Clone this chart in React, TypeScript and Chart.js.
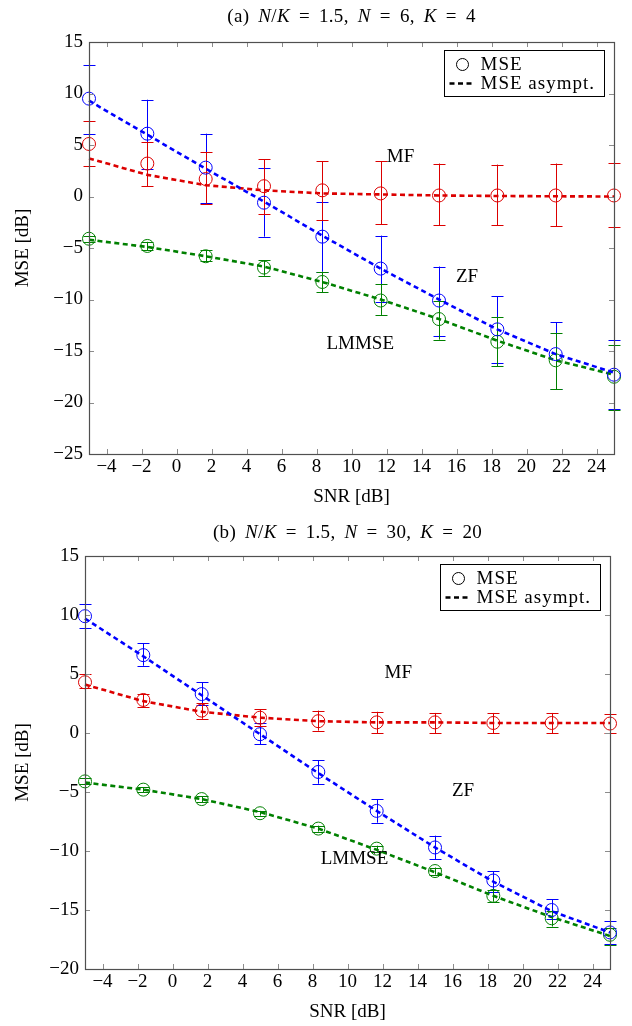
import React, { useEffect, useRef } from "react";
import { Chart, registerables } from "chart.js";

Chart.register(...registerables);

const FONT = "'Liberation Serif', 'Times New Roman', serif";
const FS = 19;

// ---------- data ----------
const snr = [-5, -1.667, 1.667, 5, 8.333, 11.667, 15, 18.333, 21.667, 25];
const xTicks = [-4, -2, 0, 2, 4, 6, 8, 10, 12, 14, 16, 18, 20, 22, 24];
const yTicksA = [-25, -20, -15, -10, -5, 0, 5, 10, 15];
const yTicksB = [-20, -15, -10, -5, 0, 5, 10, 15];
const legendLabels = ["MSE", "MSE asympt."];
const xLabel = "SNR [dB]";
const yLabel = "MSE [dB]";

// (a) N=6, K=4
const zfA = [9.5, 6.1, 2.8, -0.6, -3.9, -7.0, -10.1, -12.9, -15.3, -17.3];
const zfALo = [6.1, 2.7, -0.6, -3.9, -7.3, -10.2, -13.5, -16.2, -18.7, -20.6];
const zfAHi = [12.8, 9.4, 6.1, 2.8, -0.5, -3.8, -6.8, -9.7, -12.2, -13.9];
const zfAAsym = [9.3, 6.0, 2.7, -0.5, -3.8, -7.0, -10.0, -12.9, -15.3, -17.1];

const mfA = [5.1, 3.2, 1.7, 1.0, 0.6, 0.3, 0.1, 0.1, 0.1, 0.1];
const mfALo = [3.0, 1.0, -0.7, -1.7, -2.3, -2.7, -2.8, -2.8, -2.9, -3.0];
const mfAHi = [7.3, 5.3, 4.3, 3.6, 3.4, 3.4, 3.2, 3.1, 3.2, 3.3];
const mfAAsym = [3.7, 2.1, 1.1, 0.6, 0.3, 0.2, 0.1, 0.05, 0.02, 0.0];

const lmA = [-4.1, -4.8, -5.8, -6.9, -8.3, -10.1, -11.9, -14.1, -15.9, -17.5];
const lmALo = [-4.4, -5.2, -6.3, -7.7, -9.3, -11.5, -13.9, -16.5, -18.7, -20.7];
const lmAHi = [-3.8, -4.4, -5.2, -6.2, -7.3, -8.5, -10.1, -11.7, -13.3, -14.4];
const lmAAsym = [-4.2, -4.9, -5.8, -6.8, -8.3, -10.0, -11.9, -14.0, -15.9, -17.3];

// (b) N=30, K=20
const zfB = [9.9, 6.6, 3.3, -0.1, -3.3, -6.6, -9.7, -12.5, -15.0, -16.9];
const zfBLo = [8.9, 5.7, 2.4, -0.95, -4.3, -7.6, -10.7, -13.5, -15.8, -17.9];
const zfBHi = [10.9, 7.6, 4.3, 0.85, -2.3, -5.6, -8.7, -11.7, -14.1, -15.9];
const zfBAsym = [9.7, 6.5, 3.2, -0.1, -3.4, -6.6, -9.7, -12.6, -15.1, -16.9];

const mfB = [4.3, 2.8, 1.9, 1.3, 1.0, 0.9, 0.9, 0.85, 0.85, 0.8];
const mfBLo = [3.8, 2.2, 1.2, 0.6, 0.2, 0.0, 0.0, 0.0, 0.0, 0.0];
const mfBHi = [5.0, 3.3, 2.5, 2.0, 1.9, 1.8, 1.7, 1.7, 1.7, 1.6];
const mfBAsym = [4.1, 2.7, 1.8, 1.3, 1.0, 0.9, 0.9, 0.85, 0.85, 0.85];

const lmB = [-4.1, -4.8, -5.6, -6.8, -8.1, -9.8, -11.7, -13.8, -15.7, -17.1];
const lmBLo = [-4.35, -5.0, -5.85, -7.0, -8.35, -10.05, -12.0, -14.3, -16.4, -18.0];
const lmBHi = [-3.85, -4.6, -5.35, -6.6, -7.85, -9.55, -11.4, -13.3, -15.1, -16.5];
const lmBAsym = [-4.2, -4.8, -5.6, -6.7, -8.1, -9.9, -11.8, -13.8, -15.6, -17.2];

const labelsA = [
  { text: "MF", x: 12.8, y: 3.8 },
  { text: "ZF", x: 16.6, y: -7.8 },
  { text: "LMMSE", x: 10.5, y: -14.3 },
];
const labelsB = [
  { text: "MF", x: 12.9, y: 5.1 },
  { text: "ZF", x: 16.6, y: -4.9 },
  { text: "LMMSE", x: 10.4, y: -10.7 },
];

// ---------- styles ----------
const BLUE = "rgb(0,0,255)";
const RED = "rgb(220,0,0)";
const GREEN = "rgb(0,128,0)";

const pts = (ys: number[]) => snr.map((x, i) => ({ x, y: ys[i] }));
const fmt = (v: number) => String(v).replace("-", "\u2212");

type Series = { mse: number[]; lo: number[]; hi: number[]; asym: number[]; color: string };

function buildDatasets(series: Series[]) {
  const ds: any[] = [];
  series.forEach((s) => {
    ds.push({
      data: pts(s.asym),
      borderColor: s.color,
      borderWidth: 2.6,
      borderDash: [5, 3.5],
      pointRadius: 0,
      fill: false,
      tension: 0,
      clip: false,
    });
    ds.push({
      data: pts(s.mse),
      showLine: false,
      pointRadius: 6.5,
      pointBorderWidth: 1,
      pointBorderColor: s.color,
      pointBackgroundColor: "rgba(0,0,0,0)",
      clip: false,
    });
  });
  return ds;
}

function makePlugin(series: Series[], labels: { text: string; x: number; y: number }[], yTicks: number[]) {
  return {
    id: "custom",
    beforeDatasetsDraw(chart: any) {
      const { ctx, scales } = chart;
      const xs = scales.x;
      const ys = scales.y;
      ctx.save();
      ctx.lineWidth = 1;
      series.forEach((s) => {
        ctx.strokeStyle = s.color;
        snr.forEach((x, i) => {
          const px = Math.round(xs.getPixelForValue(x)) + 0.5;
          const pl = ys.getPixelForValue(s.lo[i]);
          const ph = ys.getPixelForValue(s.hi[i]);
          ctx.beginPath();
          ctx.moveTo(px, pl);
          ctx.lineTo(px, ph);
          ctx.moveTo(px - 6, Math.round(pl) + 0.5);
          ctx.lineTo(px + 6, Math.round(pl) + 0.5);
          ctx.moveTo(px - 6, Math.round(ph) + 0.5);
          ctx.lineTo(px + 6, Math.round(ph) + 0.5);
          ctx.stroke();
        });
      });
      ctx.restore();
    },
    afterDraw(chart: any) {
      const { ctx, chartArea: a, scales } = chart;
      const xs = scales.x;
      const ys = scales.y;
      ctx.save();
      // inner ticks
      ctx.strokeStyle = "rgb(140,140,140)";
      ctx.lineWidth = 1;
      ctx.beginPath();
      xTicks.forEach((v) => {
        const p = Math.round(xs.getPixelForValue(v)) + 0.5;
        ctx.moveTo(p, a.bottom);
        ctx.lineTo(p, a.bottom - 5);
        ctx.moveTo(p, a.top);
        ctx.lineTo(p, a.top + 5);
      });
      yTicks.forEach((v) => {
        const p = Math.round(ys.getPixelForValue(v)) + 0.5;
        ctx.moveTo(a.left, p);
        ctx.lineTo(a.left + 5, p);
        ctx.moveTo(a.right, p);
        ctx.lineTo(a.right - 5, p);
      });
      ctx.stroke();
      // frame
      ctx.strokeStyle = "rgb(80,80,80)";
      ctx.lineWidth = 1.2;
      ctx.strokeRect(Math.round(a.left) + 0.5, Math.round(a.top) + 0.5, Math.round(a.right - a.left), Math.round(a.bottom - a.top));

      // annotations
      ctx.fillStyle = "#000";
      ctx.font = `${FS}px ${FONT}`;
      ctx.textAlign = "center";
      ctx.textBaseline = "middle";
      labels.forEach((l) => {
        ctx.fillText(l.text, xs.getPixelForValue(l.x), ys.getPixelForValue(l.y));
      });

      // legend
      const w = 160;
      const h = 46;
      const lx = Math.round(a.right - 10 - w) + 0.5;
      const ly = Math.round(a.top + 8) + 0.5;
      ctx.fillStyle = "#fff";
      ctx.fillRect(lx, ly, w, h);
      ctx.strokeStyle = "#000";
      ctx.lineWidth = 1;
      ctx.strokeRect(lx, ly, w, h);
      const r1 = ly + 14;
      const r2 = ly + 33;
      ctx.beginPath();
      ctx.arc(lx + 18, r1, 6, 0, Math.PI * 2);
      ctx.stroke();
      ctx.save();
      ctx.lineWidth = 2.6;
      ctx.setLineDash([5, 3.5]);
      ctx.beginPath();
      ctx.moveTo(lx + 5, r2);
      ctx.lineTo(lx + 30, r2);
      ctx.stroke();
      ctx.restore();
      ctx.fillStyle = "#000";
      ctx.textAlign = "left";
      (ctx as any).letterSpacing = "1px";
      ctx.fillText(legendLabels[0], lx + 36, r1 + 1);
      ctx.fillText(legendLabels[1], lx + 36, r2 + 1);
      ctx.restore();
    },
  };
}

type Cfg = {
  series: Series[];
  labels: { text: string; x: number; y: number }[];
  yTicks: number[];
  yMin: number;
  yMax: number;
  padTop: number;
  padRight: number;
  yWidth: number;
  height: number;
};

function makeConfig(c: Cfg): any {
  const font = { family: FONT, size: FS };
  return {
    type: "line",
    data: { datasets: buildDatasets(c.series) },
    options: {
      animation: false,
      responsive: false,
      events: [],
      layout: { padding: { top: c.padTop, right: c.padRight, left: 0, bottom: 0 } },
      plugins: { legend: { display: false }, tooltip: { enabled: false }, title: { display: false } },
      scales: {
        x: {
          type: "linear",
          min: -5,
          max: 25,
          grid: { display: false, drawTicks: false, tickLength: 0 },
          border: { display: false },
          afterBuildTicks: (s: any) => {
            s.ticks = xTicks.map((v) => ({ value: v }));
          },
          afterFit: (s: any) => {
            s.height = c.height - 454;
          },
          ticks: { font, color: "#000", padding: 2, maxRotation: 0, autoSkip: false, callback: (v: any) => fmt(v) },
          title: { display: true, text: xLabel, font, color: "#000", padding: { top: 0, bottom: 4 } },
        },
        y: {
          type: "linear",
          min: c.yMin,
          max: c.yMax,
          grid: { display: false, drawTicks: false, tickLength: 0 },
          border: { display: false },
          afterBuildTicks: (s: any) => {
            s.ticks = c.yTicks.map((v) => ({ value: v }));
          },
          afterFit: (s: any) => {
            s.width = c.yWidth;
          },
          ticks: { font, color: "#000", padding: 6, autoSkip: false, callback: (v: any) => fmt(v) },
          title: { display: true, text: yLabel, font, color: "#000", padding: { top: 12, bottom: 0 } },
        },
      },
    },
    plugins: [makePlugin(c.series, c.labels, c.yTicks)],
  };
}

function Plot({ cfg }: { cfg: Cfg }) {
  const ref = useRef<HTMLCanvasElement | null>(null);
  useEffect(() => {
    if (!ref.current) return;
    const chart = new Chart(ref.current, makeConfig(cfg));
    return () => chart.destroy();
  }, []);
  return <canvas ref={ref} width={632} height={cfg.height} style={{ display: "block", width: 632, height: cfg.height }} />;
}

const cfgA: Cfg = {
  series: [
    { mse: zfA, lo: zfALo, hi: zfAHi, asym: zfAAsym, color: BLUE },
    { mse: mfA, lo: mfALo, hi: mfAHi, asym: mfAAsym, color: RED },
    { mse: lmA, lo: lmALo, hi: lmAHi, asym: lmAAsym, color: GREEN },
  ],
  labels: labelsA,
  yTicks: yTicksA,
  yMin: -25,
  yMax: 15,
  padTop: 42,
  padRight: 18,
  yWidth: 89,
  height: 512,
};

const cfgB: Cfg = {
  series: [
    { mse: zfB, lo: zfBLo, hi: zfBHi, asym: zfBAsym, color: BLUE },
    { mse: mfB, lo: mfBLo, hi: mfBHi, asym: mfBAsym, color: RED },
    { mse: lmB, lo: lmBLo, hi: lmBHi, asym: lmBAsym, color: GREEN },
  ],
  labels: labelsB,
  yTicks: yTicksB,
  yMin: -20,
  yMax: 15,
  padTop: 41,
  padRight: 22,
  yWidth: 85,
  height: 512,
};

const titleStyle: React.CSSProperties = {
  position: "absolute",
  left: 89,
  width: 525,
  textAlign: "center",
  fontFamily: FONT,
  fontSize: FS,
  lineHeight: "20px",
  color: "#000",
  whiteSpace: "nowrap",
  wordSpacing: "4px",
  letterSpacing: "0.3px",
};

export default function App() {
  return (
    <div style={{ position: "absolute", left: 0, top: 0, width: 632, height: 1026, background: "#fff" }}>
      <div style={{ position: "absolute", left: 0, top: 0 }}>
        <Plot cfg={cfgA} />
      </div>
      <div style={{ position: "absolute", left: 0, top: 515 }}>
        <Plot cfg={cfgB} />
      </div>
      <div style={{ ...titleStyle, top: 6 }}>
        (a) <i>N</i>/<i>K</i> = 1.5, <i>N</i> = 6, <i>K</i> = 4
      </div>
      <div style={{ ...titleStyle, top: 522, left: 85 }}>
        (b) <i>N</i>/<i>K</i> = 1.5, <i>N</i> = 30, <i>K</i> = 20
      </div>
    </div>
  );
}
